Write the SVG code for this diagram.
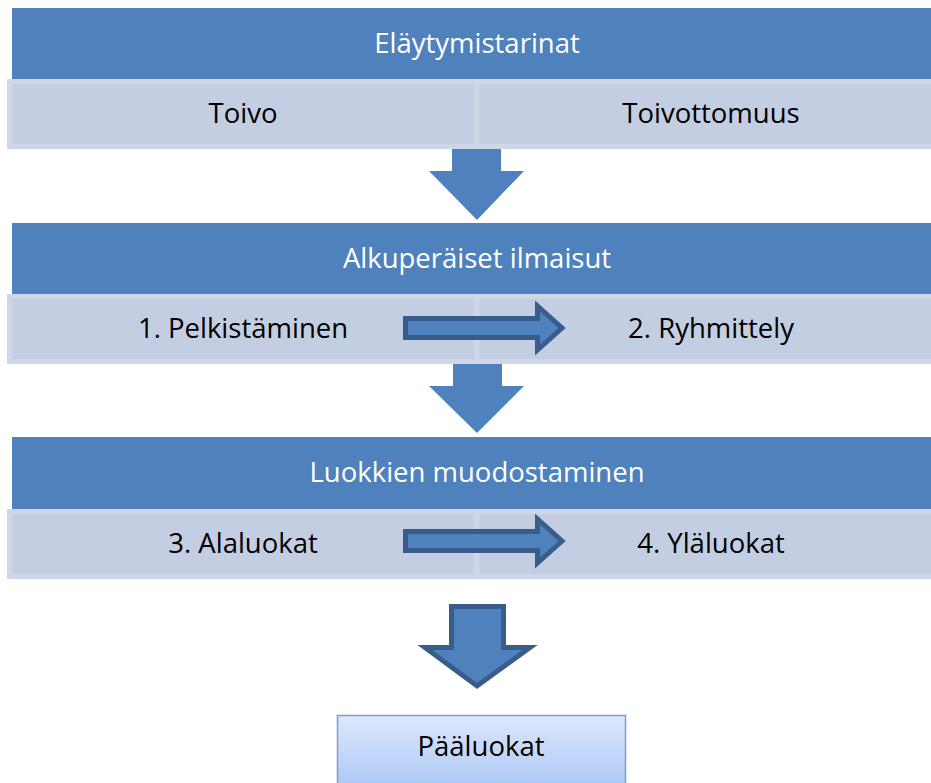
<svg xmlns="http://www.w3.org/2000/svg" width="931" height="783" viewBox="0 0 931 783">
<defs>
<style>
.hdr{fill:#4F81BD;}
.pnl{fill:#C3CEE2;stroke:#CED7E8;stroke-width:5;}
.ht{font-family:"Open Sans","Liberation Sans",sans-serif;font-size:27.5px;fill:#FFFFFF;text-anchor:middle;}
.pt{font-family:"Open Sans","Liberation Sans",sans-serif;font-size:27.5px;fill:#000000;text-anchor:middle;}
.darr{fill:#4F81BD;}
.sarr{fill:#4F81BD;stroke:#385D8A;stroke-width:5;stroke-linejoin:miter;}
</style>
<linearGradient id="boxg" x1="0" y1="0" x2="0" y2="1">
<stop offset="0" stop-color="#DDE8FB"/>
<stop offset="1" stop-color="#A6C4F5"/>
</linearGradient>
</defs>
<rect width="931" height="783" fill="#FFFFFF"/>

<g id="connectors">
<polygon class="darr" points="452,146 501,146 501,171 524,171 477,220 429,171 452,171"/>
<polygon class="darr" points="453,361 502,361 502,386 524,386 477,433 429,386 453,386"/>
<polygon class="sarr" points="451.5,606.5 503.5,606.5 503.5,647.5 530,647.5 477,686 425,647.5 451.5,647.5"/>
</g>

<g id="stage1">
<rect class="hdr" x="12" y="8" width="933" height="71"/>
<text class="ht" x="477" y="53">Eläytymistarinat</text>
<g id="toivo">
<rect class="pnl" x="9.5" y="81.5" width="467.5" height="65"/>
<text class="pt" x="243" y="123">Toivo</text>
</g>
<g id="toivottomuus">
<rect class="pnl" x="477" y="81.5" width="470" height="65"/>
<text class="pt" x="711" y="123">Toivottomuus</text>
</g>
</g>

<g id="stage2">
<rect class="hdr" x="12" y="223" width="933" height="71"/>
<text class="ht" x="477" y="268">Alkuperäiset ilmaisut</text>
<g id="pelkistaminen">
<rect class="pnl" x="9.5" y="296.5" width="467.5" height="65"/>
<text class="pt" x="243" y="338">1. Pelkistäminen</text>
</g>
<g id="ryhmittely">
<rect class="pnl" x="477" y="296.5" width="470" height="65"/>
<text class="pt" x="711" y="338">2. Ryhmittely</text>
</g>
<polygon class="sarr" points="405.5,318.5 537.5,318.5 537.5,306 562,328 537.5,350 537.5,337.5 405.5,337.5"/>
</g>

<g id="stage3">
<rect class="hdr" x="12" y="437" width="933" height="72"/>
<text class="ht" x="477" y="482">Luokkien muodostaminen</text>
<g id="alaluokat">
<rect class="pnl" x="9.5" y="511.5" width="467.5" height="65"/>
<text class="pt" x="243" y="553">3. Alaluokat</text>
</g>
<g id="ylaluokat">
<rect class="pnl" x="477" y="511.5" width="470" height="65"/>
<text class="pt" x="711" y="553">4. Yläluokat</text>
</g>
<polygon class="sarr" points="405.5,531.5 537.5,531.5 537.5,519 562,541 537.5,563 537.5,550.5 405.5,550.5"/>
</g>

<g id="paaluokat">
<rect x="337.5" y="715.5" width="288" height="80" fill="url(#boxg)" stroke="#7BA0CD" stroke-width="1.5"/>
<text class="pt" x="481" y="756">Pääluokat</text>
</g>
</svg>
